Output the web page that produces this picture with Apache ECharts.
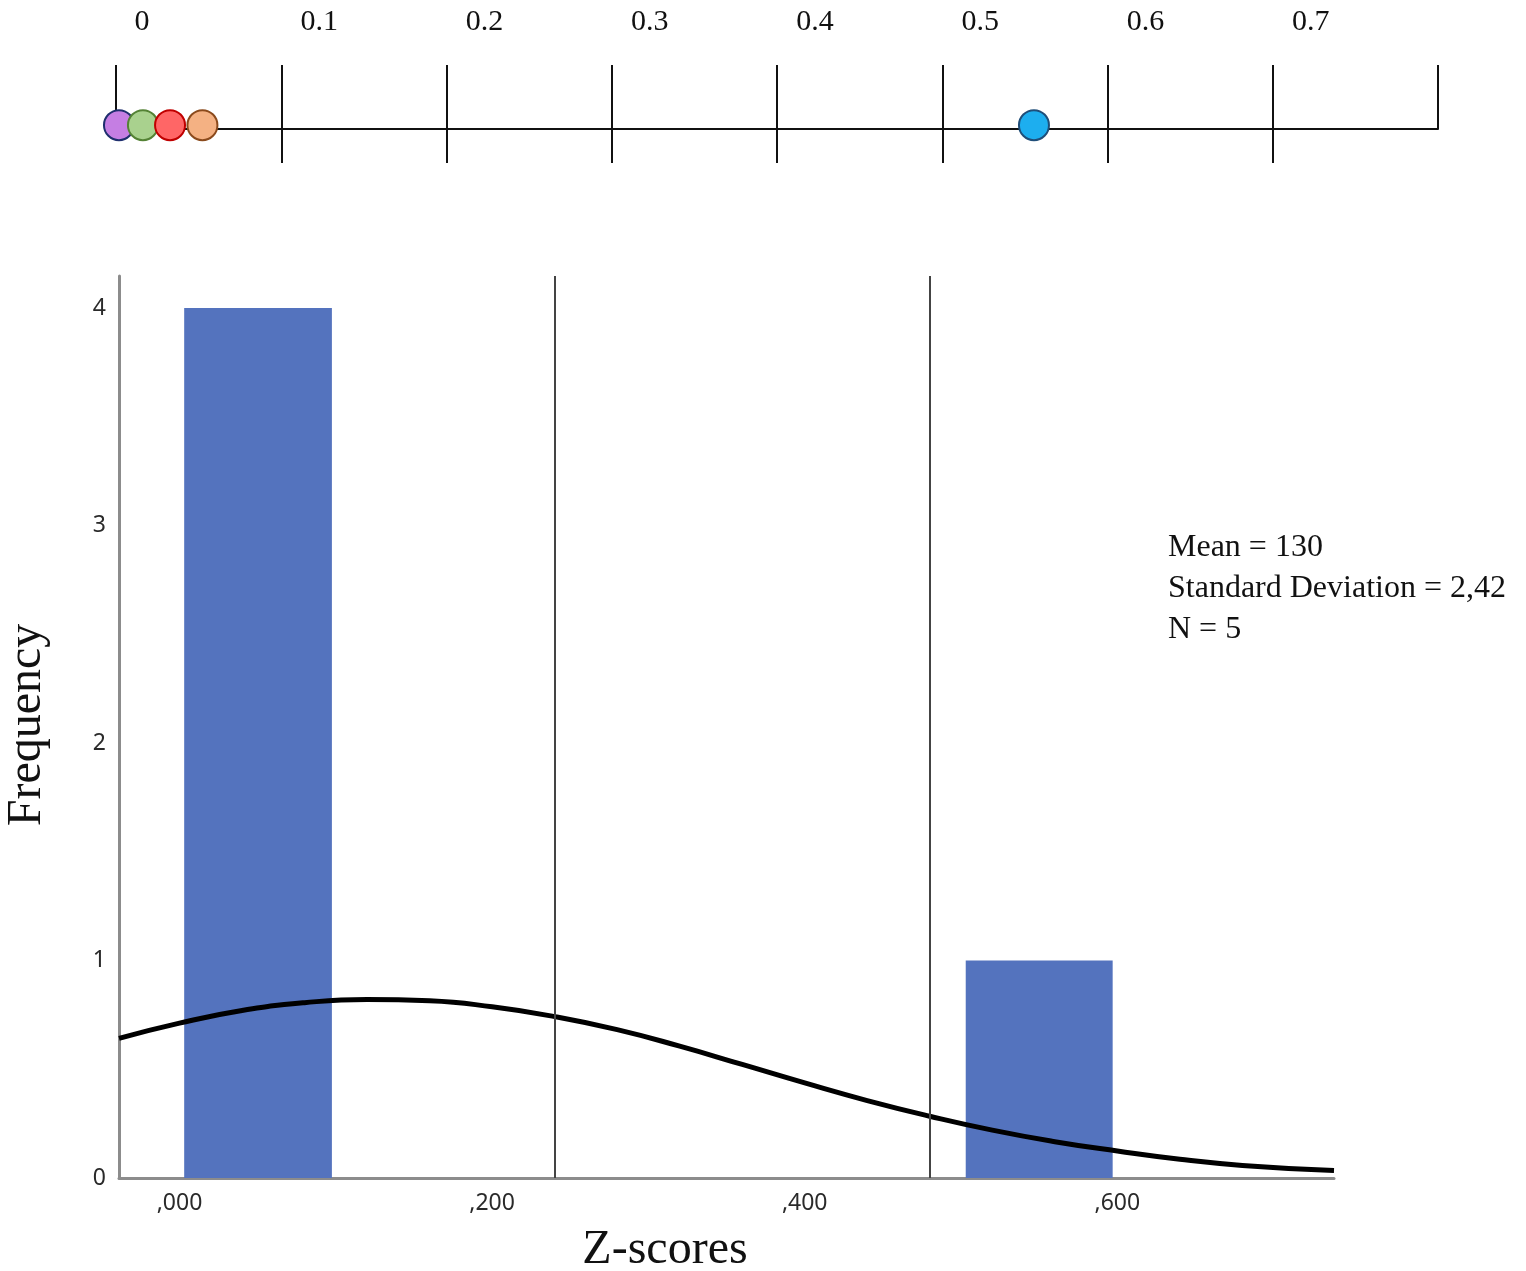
<!DOCTYPE html>
<html>
<head>
<meta charset="utf-8">
<script src="https://cdn.jsdelivr.net/npm/echarts@6/dist/echarts.min.js"></script>
<style>
html,body{margin:0;padding:0;background:#fff;}
#chart{width:1526px;height:1271px;}
</style>
</head>
<body>
<div id="chart"></div>
<script>
// ---- Data ----
const topTickLabels = ['0', '0.1', '0.2', '0.3', '0.4', '0.5', '0.6', '0.7', ''];
const pointValues = [0.0018, 0.0163, 0.0327, 0.0523, 0.5555];
const binStarts = [0.003, 0.503];
const binEnds = [0.0975, 0.597];
const frequencies = [4, 1];
const xTickLabels = [',000', ',200', ',400', ',600'];
const yTickLabels = ['0', '1', '2', '3', '4'];
const refLines = [0.2421, 0.4846];
const curveX = [-0.0387, 0.00, 0.04, 0.08, 0.12, 0.16, 0.20, 0.24, 0.28, 0.32, 0.36, 0.40, 0.44, 0.48, 0.52, 0.56, 0.60, 0.64, 0.68, 0.7386];
const curveY = [0.642, 0.712, 0.770, 0.806, 0.821, 0.815, 0.787, 0.742, 0.682, 0.606, 0.522, 0.437, 0.356, 0.284, 0.220, 0.167, 0.124, 0.086, 0.058, 0.034];
const statsText = ['Mean = 130', 'Standard Deviation = 2,42', 'N = 5'];

// ---- Styles ----
const pointFills = ['#C57EE3', '#A9D18E', '#FF6666', '#F4B183', '#1DAEEF'];
const pointBorders = ['#1F2F6E', '#548235', '#C00000', '#8B4A1C', '#1F4E79'];
const serif = 'Liberation Serif';
const sans = 'Noto Sans';

const chart = echarts.init(document.getElementById('chart'));

const option = {
  animation: false,
  backgroundColor: '#fff',
  grid: [
    { left: 119, right: 192, top: 276, bottom: 93 },            // 0 main histogram
    { left: 179.5, width: 937.8, top: 276, bottom: 93 },       // 1 x labels
    { left: 116, width: 1322, top: 65, height: 64 },           // 2 number line upper
    { left: 281.25, width: 991.5, top: 129, height: 34 },      // 3 number line lower ticks
    { left: 154, width: 1322, top: 40, height: 10 }            // 4 number line labels
  ],
  xAxis: [
    { gridIndex: 0, type: 'value', min: -0.0387, max: 0.7386,
      axisLine: { show: true, onZero: false, lineStyle: { color: '#8C8C8C', width: 3 } },
      axisTick: { show: false }, axisLabel: { show: false }, splitLine: { show: false } },
    { gridIndex: 1, type: 'value', min: 0, max: 0.6, interval: 0.2,
      axisLine: { show: false, onZero: false }, axisTick: { show: false }, splitLine: { show: false },
      axisLabel: { show: true, margin: 14, fontFamily: sans, fontSize: 23, color: '#2A2A2A',
        formatter: v => xTickLabels[Math.round(v / 0.2)] || '' } },
    { gridIndex: 2, type: 'value', min: 0, max: 0.8, interval: 0.1,
      axisLine: { show: true, onZero: false, lineStyle: { color: '#111', width: 2 } },
      axisTick: { show: false }, axisLabel: { show: false },
      splitLine: { show: true, lineStyle: { color: '#111', width: 2 } } },
    { gridIndex: 3, type: 'value', min: 0.1, max: 0.7, interval: 0.1,
      axisLine: { show: false }, axisTick: { show: false }, axisLabel: { show: false },
      splitLine: { show: true, lineStyle: { color: '#111', width: 2 } } },
    { gridIndex: 4, type: 'value', position: 'top', min: 0, max: 0.8, interval: 0.1,
      axisLine: { show: false }, axisTick: { show: false }, splitLine: { show: false },
      axisLabel: { show: true, margin: 3, fontFamily: serif, fontSize: 30, color: '#111',
        formatter: v => {
          const i = Math.round(v / 0.1);
          if (i === 0) return '{z|' + topTickLabels[0] + '}';
          return topTickLabels[i] || '';
        },
        rich: { z: { fontFamily: serif, fontSize: 30, color: '#111', padding: [0, 24, 0, 0] } } } }
  ],
  yAxis: [
    { gridIndex: 0, type: 'value', min: 0, max: 4.147, interval: 1,
      axisLine: { show: true, onZero: false, lineStyle: { color: '#8C8C8C', width: 3 } },
      axisTick: { show: false }, splitLine: { show: false },
      axisLabel: { show: true, margin: 13, fontFamily: sans, fontSize: 23, color: '#2A2A2A',
        formatter: v => (Math.abs(v - Math.round(v)) < 1e-6 ? (yTickLabels[Math.round(v)] || '') : '') } },
    { gridIndex: 1, type: 'value', min: 0, max: 1, show: false },
    { gridIndex: 2, type: 'value', min: 0, max: 1, show: false },
    { gridIndex: 3, type: 'value', min: 0, max: 1, show: false },
    { gridIndex: 4, type: 'value', min: 0, max: 1, show: false }
  ],
  series: [
    {
      type: 'custom', xAxisIndex: 0, yAxisIndex: 0, z: 2,
      data: binStarts.map((s, i) => [s, binEnds[i], frequencies[i]]),
      encode: { x: [0, 1], y: 2 },
      renderItem: (params, api) => {
        const p0 = api.coord([api.value(0), api.value(2)]);
        const p1 = api.coord([api.value(1), 0]);
        return { type: 'rect',
          shape: { x: p0[0], y: p0[1], width: p1[0] - p0[0], height: p1[1] - p0[1] },
          style: { fill: '#5473BE' } };
      }
    },
    {
      type: 'line', xAxisIndex: 0, yAxisIndex: 0, z: 4,
      data: curveX.map((x, i) => [x, curveY[i]]),
      smooth: 0.5, showSymbol: false, symbol: 'none',
      lineStyle: { color: '#000', width: 5 },
      markLine: {
        silent: true, symbol: 'none', label: { show: false },
        lineStyle: { color: '#444', width: 2, type: 'solid' },
        data: refLines.map(v => ({ xAxis: v }))
      }
    },
    {
      type: 'scatter', xAxisIndex: 2, yAxisIndex: 2, z: 5,
      symbol: 'circle', symbolSize: 30,
      data: pointValues.map((v, i) => ({
        value: [v, 0.06],
        itemStyle: { color: pointFills[i], borderColor: pointBorders[i], borderWidth: 2, opacity: 1 }
      }))
    }
  ],
  graphic: [
    { type: 'text', left: 1168, top: 527,
      style: { text: statsText.join('\n'), font: '32px "Liberation Serif"', fill: '#111', lineHeight: 41 } },
    { type: 'text', x: 27, y: 725, rotation: Math.PI / 2,
      style: { text: 'Frequency', font: '48px "Liberation Serif"', fill: '#111', align: 'center', verticalAlign: 'middle' } },
    { type: 'text', x: 665, y: 1250,
      style: { text: 'Z-scores', font: '48px "Liberation Serif"', fill: '#111', align: 'center', verticalAlign: 'middle' } }
  ]
};

chart.setOption(option);
</script>
</body>
</html>
